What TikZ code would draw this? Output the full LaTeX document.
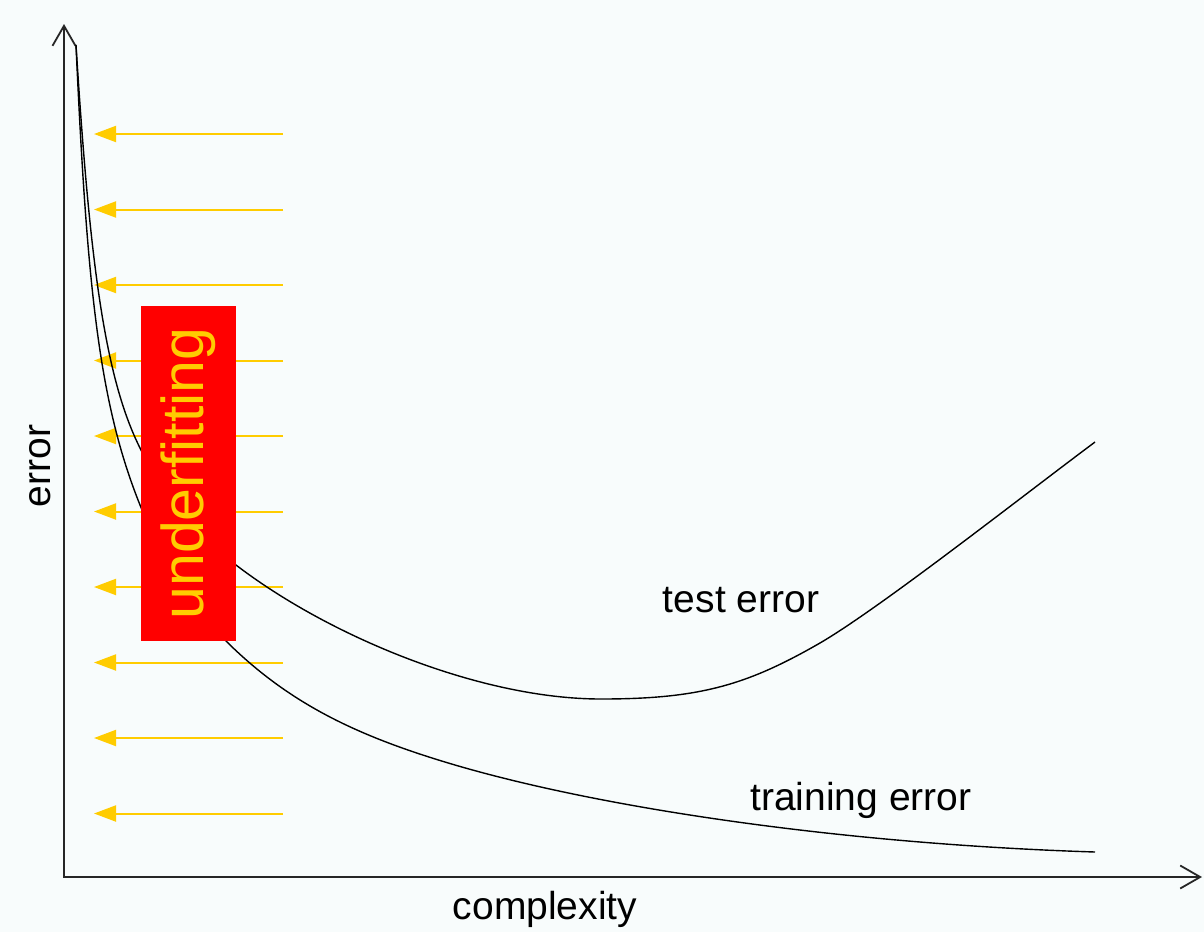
\documentclass[tikz,border=0pt]{standalone}
\usepackage{fontspec}
\setmainfont{Liberation Sans}
\usetikzlibrary{arrows.meta}
\definecolor{paper}{RGB}{248,252,252}
\definecolor{gold}{RGB}{255,204,0}
\tikzset{
  axis/.style={line width=1.8pt, black!85},
  curve/.style={line width=1.4pt, black},
  hint/.style={line width=2pt, gold, -{Triangle[length=22pt,width=16pt]}},
  lbl/.style={font=\fontsize{39}{39}\selectfont, inner sep=0pt},
  flag/.style={fill=red, text=gold, rotate=90, inner sep=0pt,
    minimum width=335pt, minimum height=95pt,
    font=\fontsize{59}{59}\selectfont}
}
\begin{document}
\begin{tikzpicture}[x=1pt,y=-1pt]
\fill[paper] (0,0) rectangle (1204,932);
\useasboundingbox (0,0) rectangle (1204,932);

% axes
\coordinate (ytip) at (64,24);
\coordinate (origin) at (64,877);
\coordinate (xtip) at (1202,877);
\draw[axis, {Straight Barb[length=20pt,width=23pt]}-{Straight Barb[length=20pt,width=23pt]}]
  (ytip) -- (origin) -- (xtip);

% hint arrows pointing towards low complexity
\foreach \i in {0,...,9} {
  \coordinate (hs\i) at (283,134+75.5*\i);
  \coordinate (he\i) at (94,134+75.5*\i);
  \draw[hint] (hs\i) -- (he\i);
}

% test error
\draw[curve] (76,45)
  .. controls (89.9,265) and (105,378) .. (140,448)
  .. controls (160,488) and (196,534) .. (236,565)
  .. controls (330,637) and (481,699) .. (601,699)
  .. controls (700,699) and (747,685) .. (820,643)
  .. controls (880,608) and (1020,498) .. (1095,442);

% training error
\draw[curve] (76,45)
  .. controls (87.3,295) and (100,405) .. (140,505)
  .. controls (160,555) and (190,605) .. (225,640)
  .. controls (290,705) and (360,737) .. (455,765)
  .. controls (605,809) and (845,844) .. (1095,852);

% underfitting flag
\node[flag] (uf) at (188.5,473.5) {underfitting};

% labels
\node[lbl, anchor=base] (testlbl) at (741,612) {test error};
\node[lbl, anchor=base] (trainlbl) at (861,810) {training error};
\node[lbl, anchor=base] (xlbl) at (545,919) {complexity};
\node[lbl, anchor=base, rotate=90] (ylbl) at (50,466) {error};
\end{tikzpicture}
\end{document}
